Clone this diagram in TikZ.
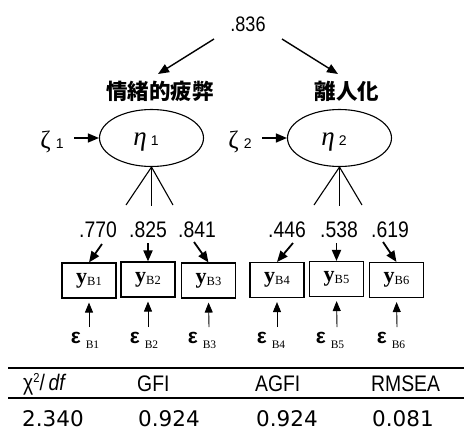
\documentclass[tikz,border=0pt]{standalone}
\usepackage{fontspec}
\setmainfont{Liberation Serif}
\newfontfamily\condf[FakeStretch=0.86]{Liberation Sans}
\newfontfamily\sansf{Liberation Sans}
\newfontfamily\valf{DejaVu Sans}
\newfontfamily\cjkf{Noto Sans CJK JP}
\usetikzlibrary{arrows.meta,shapes.geometric}
\tikzset{
  tipa/.style={-{Triangle[length=11pt,width=9pt]}},
  latent/.style={ellipse,draw,line width=1.1pt,minimum width=104pt,minimum height=57pt,inner sep=0pt},
  obsbox/.style={draw,line width=1.1pt,minimum width=54pt,minimum height=35pt,inner sep=0pt},
  loadtxt/.style={font=\fontsize{22.5}{24}\selectfont\condf,inner sep=0pt},
  toptxt/.style={font=\fontsize{21}{24}\selectfont\condf,inner sep=0pt},
  titletxt/.style={font=\fontsize{21.5}{24}\selectfont\cjkf\bfseries,inner sep=0pt},
  headtxt/.style={font=\fontsize{22.5}{24}\selectfont\condf,inner sep=0pt,anchor=west},
  valtxt/.style={font=\fontsize{21.5}{24}\selectfont\valf,inner sep=0pt,anchor=west},
  epstxt/.style={inner sep=0pt},
  bigarrow/.style={tipa,line width=1.4pt},
  loadarrow/.style={tipa,line width=1.8pt},
  errarrow/.style={-{Triangle[length=10pt,width=8pt]},line width=0.9pt},
  stem/.style={line width=1.1pt},
  rule/.style={line width=1.4pt}
}
\newcommand{\ylab}[1]{{\fontsize{22}{22}\selectfont\bfseries y}{\fontsize{12.5}{13}\selectfont\raisebox{-2pt}{#1}}}
\newcommand{\elab}[1]{{\fontsize{21}{22}\selectfont\sansf\bfseries ε}\hspace{5pt}{\fontsize{11.5}{12}\selectfont\raisebox{-5pt}{#1}}}
\begin{document}
\begin{tikzpicture}[x=1pt,y=-1pt]
\useasboundingbox (0,0) rectangle (464,445);
% correlation
\node[toptxt] (r) at (248,24) {.836};
\node[titletxt] (t1) at (160,91) {情緒的疲弊};
\node[titletxt] (t2) at (347,91) {離人化};
\coordinate (ra) at (214,39);
\coordinate (rb) at (282,39);
\coordinate (ta) at (158,74);
\coordinate (tb) at (338,74);
\draw[bigarrow] (ra) -- (ta);
\draw[bigarrow] (rb) -- (tb);
% latent variables
\node[latent] (e1) at (151.5,138) {};
\node[latent] (e2) at (339.5,138) {};
\node[inner sep=0pt] (h1) at (146,142) {{\fontsize{27}{28}\selectfont\itshape η}\hspace{4pt}{\fontsize{14}{15}\selectfont\sansf 1}};
\node[inner sep=0pt] (h2) at (334,142) {{\fontsize{27}{28}\selectfont\itshape η}\hspace{4pt}{\fontsize{14}{15}\selectfont\sansf 2}};
\node[inner sep=0pt] (z1) at (52,142) {{\fontsize{25}{26}\selectfont ζ}\hspace{5pt}{\fontsize{14}{15}\selectfont\sansf 1}};
\node[inner sep=0pt] (z2) at (240,142) {{\fontsize{25}{26}\selectfont ζ}\hspace{5pt}{\fontsize{14}{15}\selectfont\sansf 2}};
\coordinate (za) at (74,138);
\coordinate (zb) at (262,138);
\draw[bigarrow] (za) -- (e1.west);
\draw[bigarrow] (zb) -- (e2.west);
% stems
\coordinate (s11) at (126,205);
\coordinate (s12) at (151.5,206);
\coordinate (s13) at (173,205);
\coordinate (s21) at (314,205);
\coordinate (s22) at (339.5,206);
\coordinate (s23) at (362,205);
\draw[stem] (e1.south) -- (s11);
\draw[stem] (e1.south) -- (s12);
\draw[stem] (e1.south) -- (s13);
\draw[stem] (e2.south) -- (s21);
\draw[stem] (e2.south) -- (s22);
\draw[stem] (e2.south) -- (s23);
% loadings
\node[loadtxt] (l1) at (98,230) {.770};
\node[loadtxt] (l2) at (148,230) {.825};
\node[loadtxt] (l3) at (197,230) {.841};
\node[loadtxt] (l4) at (287,230) {.446};
\node[loadtxt] (l5) at (339,230) {.538};
\node[loadtxt] (l6) at (390,230) {.619};
% boxes
\node[obsbox] (b1) at (89,280.5) {\ylab{B1}};
\node[obsbox] (b2) at (148,279.5) {\ylab{B2}};
\node[obsbox] (b3) at (208.5,280.5) {\ylab{B3}};
\node[obsbox] (b4) at (277,280) {\ylab{B4}};
\node[obsbox] (b5) at (336.5,279) {\ylab{B5}};
\node[obsbox] (b6) at (396.5,280) {\ylab{B6}};
\coordinate (la1) at (102,244);
\coordinate (la2) at (148,243);
\coordinate (la3) at (194,242);
\coordinate (la4) at (293,243);
\coordinate (la5) at (336.5,243);
\coordinate (la6) at (383,242);
\draw[loadarrow] (la1) -- (b1.north);
\draw[loadarrow] (la2) -- (b2.north);
\draw[loadarrow] (la3) -- (b3.north);
\draw[loadarrow] (la4) -- (b4.north);
\draw[loadarrow] (la5) -- (b5.north);
\draw[loadarrow] (la6) -- (b6.north);
% errors
\coordinate (u1) at (89,327);
\coordinate (u2) at (148,327);
\coordinate (u3) at (209,327);
\coordinate (u4) at (277,327);
\coordinate (u5) at (337,327);
\coordinate (u6) at (397,327);
\draw[errarrow,shorten >=4pt] (u1) -- (b1.south);
\draw[errarrow,shorten >=4pt] (u2) -- (b2.south);
\draw[errarrow,shorten >=4pt] (u3) -- (b3.south);
\draw[errarrow,shorten >=4pt] (u4) -- (b4.south);
\draw[errarrow,shorten >=4pt] (u5) -- (b5.south);
\draw[errarrow,shorten >=4pt] (u6) -- (b6.south);
\node[epstxt] (ep1) at (85,340) {\elab{B1}};
\node[epstxt] (ep2) at (144,340) {\elab{B2}};
\node[epstxt] (ep3) at (202,340) {\elab{B3}};
\node[epstxt] (ep4) at (271,340) {\elab{B4}};
\node[epstxt] (ep5) at (330,340) {\elab{B5}};
\node[epstxt] (ep6) at (391,340) {\elab{B6}};
% table
\coordinate (ra1) at (8,368);
\coordinate (ra2) at (464,368);
\coordinate (rb1) at (8,398);
\coordinate (rb2) at (464,398);
\draw[rule] (ra1) -- (ra2);
\draw[rule] (rb1) -- (rb2);
\node[headtxt] (hd1) at (23,384) {χ\raisebox{8pt}{\fontsize{13}{14}\selectfont 2}/\,\itshape df};
\node[headtxt] (hd2) at (137,384) {GFI};
\node[headtxt] (hd3) at (255,384) {AGFI};
\node[headtxt] (hd4) at (371,384) {RMSEA};
\node[valtxt] (vl1) at (22,419) {2.340};
\node[valtxt] (vl2) at (138,419) {0.924};
\node[valtxt] (vl3) at (256,419) {0.924};
\node[valtxt] (vl4) at (372,419) {0.081};
\end{tikzpicture}
\end{document}
